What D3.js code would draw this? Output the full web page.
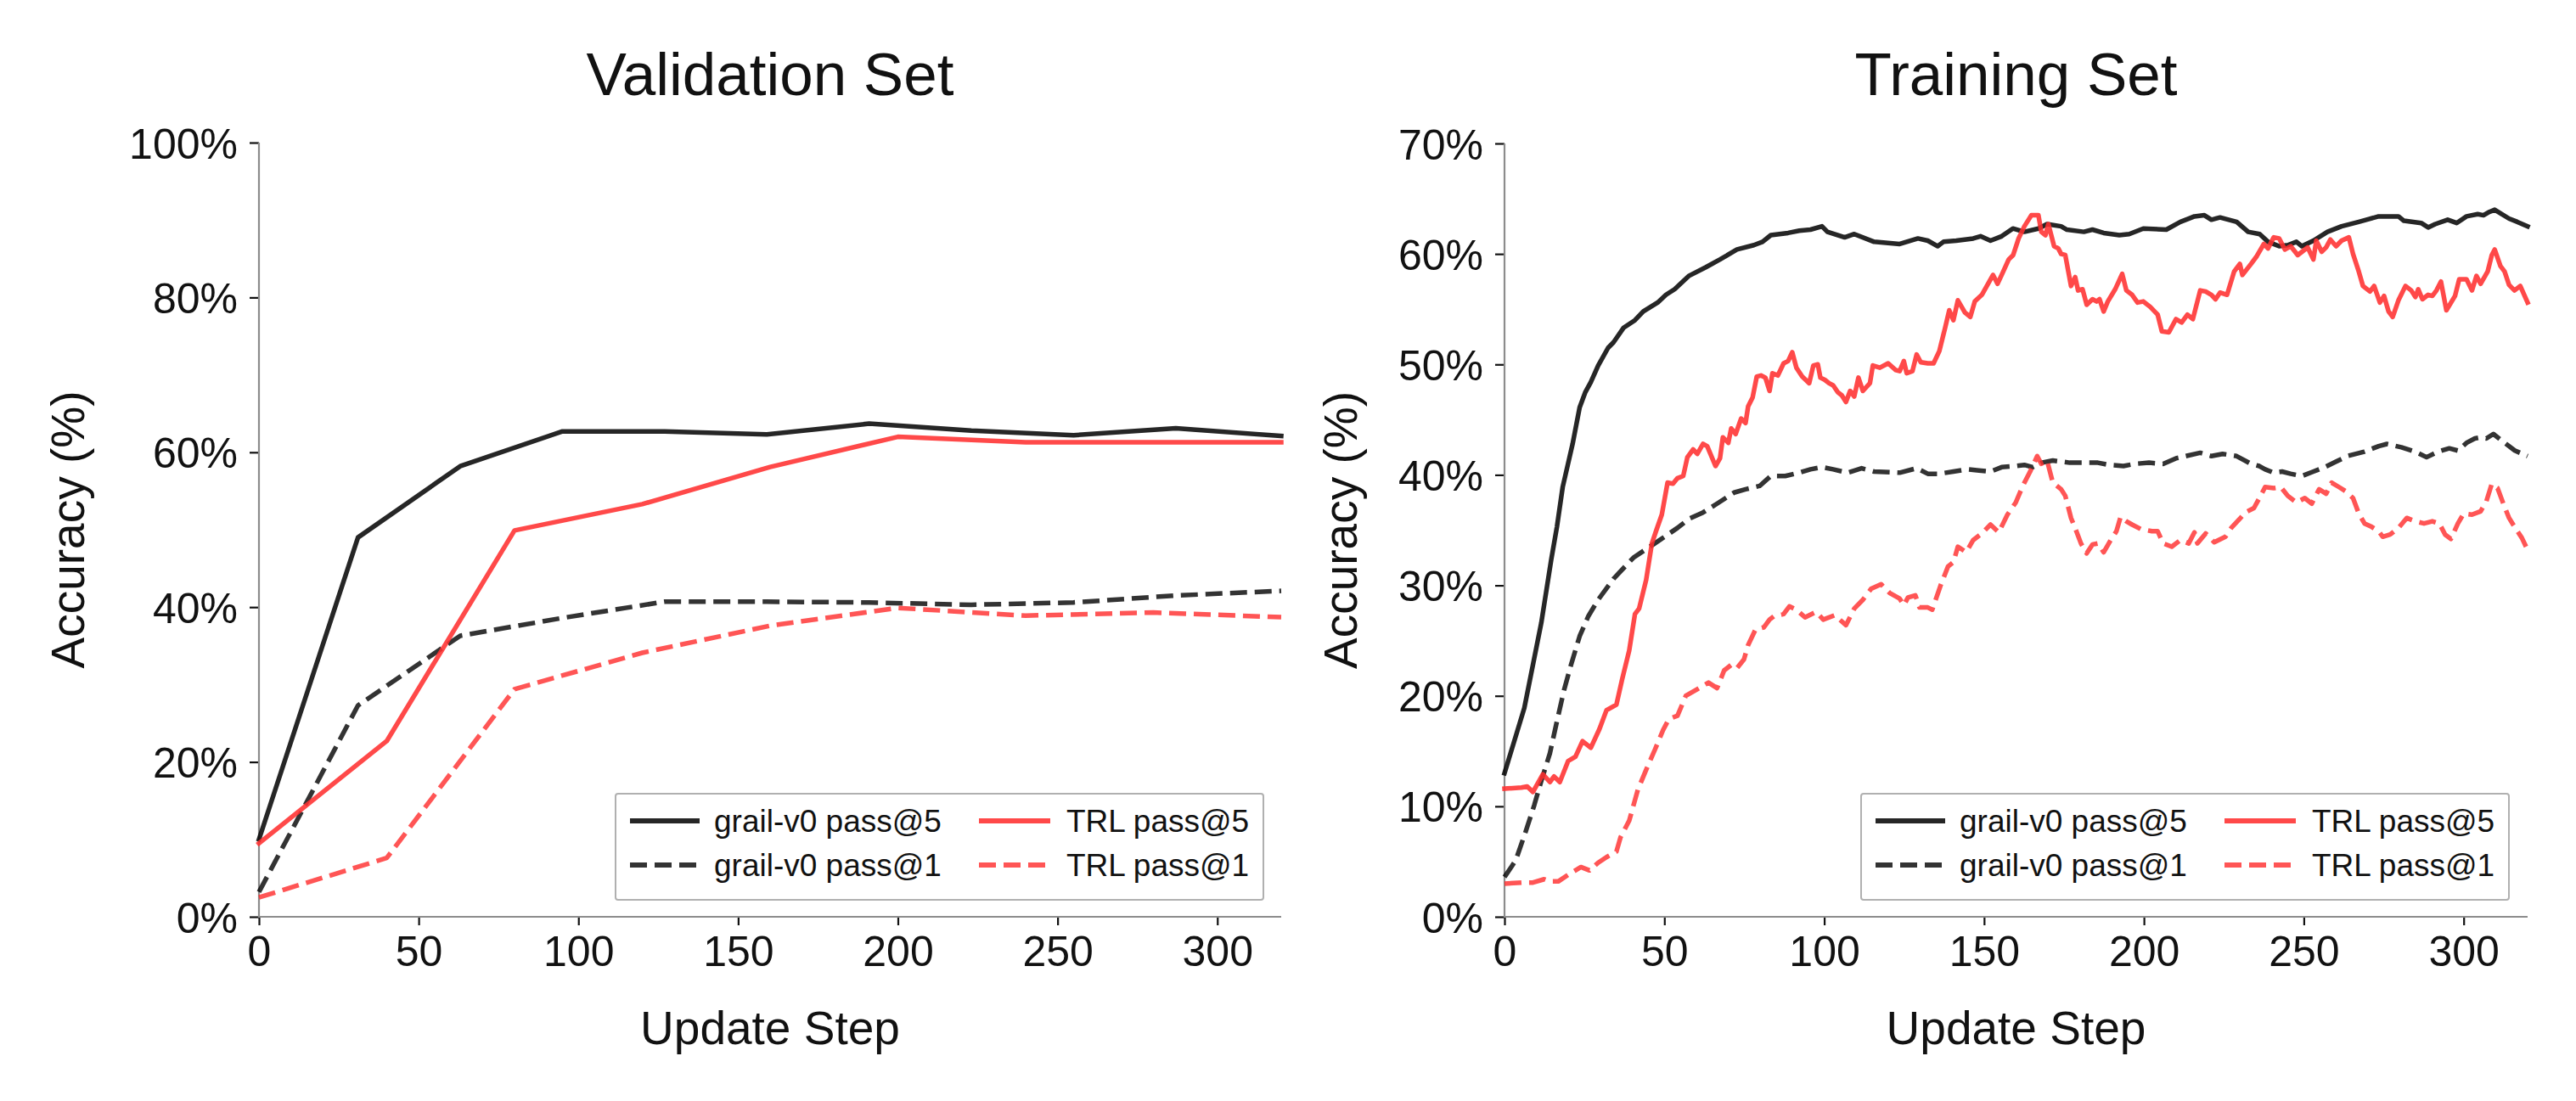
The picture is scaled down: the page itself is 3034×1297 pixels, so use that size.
<!DOCTYPE html>
<html>
<head>
<meta charset="utf-8">
<script src="https://cdn.jsdelivr.net/npm/d3@7/dist/d3.min.js"></script>
<style>
  html, body { margin: 0; padding: 0; background: #fff; }
  svg { display: block; }
  text { font-family: "Liberation Sans", Arial, Helvetica, sans-serif; fill: #111; }
</style>
</head>
<body>
<svg id="chart" width="3034" height="1297"></svg>
<script>
// ---------------- DATA ----------------
const xTicks = [0, 50, 100, 150, 200, 250, 300];
const valYTicks = [0, 20, 40, 60, 80, 100];
const trainYTicks = [0, 10, 20, 30, 40, 50, 60, 70];
const seriesNames = ["grail-v0 pass@5", "grail-v0 pass@1", "TRL pass@5", "TRL pass@1"];

// Validation set (evaluation points)
const valGrailSteps = [0, 31, 63, 95, 127, 159, 191, 223, 255, 287, 320];
const valGrail5 = [10.0, 49.0, 58.2, 62.7, 62.7, 62.3, 63.7, 62.8, 62.2, 63.1, 62.1];
const valGrail1 = [3.2, 27.3, 36.3, 38.6, 40.7, 40.7, 40.6, 40.3, 40.6, 41.5, 42.1];
const valTrlSteps = [0, 40, 80, 120, 160, 200, 240, 280, 320];
const valTrl5 = [9.5, 22.7, 49.9, 53.3, 58.1, 62.0, 61.3, 61.3, 61.3];
const valTrl1 = [2.5, 7.6, 29.4, 34.1, 37.6, 39.9, 38.9, 39.3, 38.7];

// Training set ([step, accuracy %])
const trainGrail5 = [[0,13.0],[6.2,18.9],[11.5,26.6],[14.6,32.3],[16.4,35.3],[18.2,38.9],[21.3,42.8],[23.5,46.1],[25.3,47.5],[27,48.4],[29.3,49.9],[32.4,51.5],[34.1,52],[37.2,53.3],[40.8,54],[43.4,54.8],[47.9,55.6],[50.5,56.3],[53.2,56.8],[57.6,58],[63,58.8],[67.4,59.5],[72.7,60.4],[78,60.8],[80.7,61.1],[83.3,61.7],[88.7,61.9],[92.2,62.1],[95.7,62.2],[99.3,62.5],[101,62],[106.4,61.5],[109.4,61.8],[115.6,61.1],[123.6,60.9],[129.3,61.4],[132.4,61.2],[135.5,60.7],[137.3,61.1],[141.3,61.2],[146.6,61.4],[148.9,61.6],[152,61.2],[155.5,61.6],[159,62.3],[162.6,62.0],[167,62.3],[169.7,62.7],[174.1,62.5],[175.9,62.2],[181.2,62.0],[183.9,62.2],[187.4,61.9],[192.3,61.7],[195.4,61.8],[199.8,62.3],[207,62.2],[211.4,62.9],[215.8,63.4],[218.9,63.5],[221.1,63.1],[223.8,63.3],[229,62.9],[232.6,62.0],[236.2,61.8],[238.8,61.1],[242.3,60.7],[245,60.8],[247.7,61.1],[249.4,60.7],[253,61.2],[257.4,62.0],[261.8,62.5],[267.2,62.9],[273.4,63.4],[279.6,63.4],[281.3,63.0],[286.7,62.8],[288.9,62.4],[291.1,62.7],[295,63.1],[297.8,62.8],[300.9,63.4],[304.4,63.6],[306.2,63.5],[308,63.8],[309.7,64.0],[314.2,63.2],[316.8,62.9],[320,62.5]];

const trainGrail1 = [[0,3.6],[3.5,5.1],[6.6,7.7],[9.3,10.1],[11.5,12.3],[14.2,14.8],[16.4,17.7],[18.6,20.5],[20.8,22.8],[23.5,25.4],[26.2,27.2],[29.3,28.7],[34.1,30.6],[40.3,32.5],[47,33.8],[54.1,35.2],[57.6,36.0],[62.1,36.6],[66.5,37.4],[71.8,38.4],[75.4,38.7],[79.8,39.0],[83.3,39.9],[87.8,39.9],[92.2,40.2],[95.7,40.5],[99.3,40.7],[102.8,40.5],[107.3,40.2],[111.7,40.6],[115.6,40.3],[123.6,40.2],[128.9,40.6],[132.4,40.1],[136,40.1],[140.4,40.3],[144.9,40.5],[148.4,40.4],[152,40.3],[155.5,40.7],[159.9,40.8],[162.6,40.9],[165.2,40.7],[167.9,41.1],[171.5,41.3],[176.8,41.1],[181.2,41.1],[185.6,41.1],[189.2,40.9],[193.6,40.8],[197.2,41.0],[201.6,41.1],[206,41.0],[210,41.5],[213.1,41.7],[217.6,42.0],[221.1,41.7],[224.6,41.9],[229,41.7],[233.5,41.0],[236.1,40.8],[237.9,40.5],[240.6,40.2],[243.2,40.3],[245.9,40.1],[249.4,39.9],[253,40.3],[256.5,40.7],[260.1,41.2],[263.6,41.7],[268.9,42.1],[273.4,42.6],[276,42.8],[280.5,42.5],[284.9,42.1],[288.4,41.6],[292,42.1],[295.5,42.4],[298.2,42.2],[300.9,42.9],[303.5,43.3],[305.3,43.4],[307.1,43.3],[309.3,43.7],[312.4,43.0],[316,42.2],[320,41.7]];

const trainTrl5 = [[0,11.6],[5.3,11.7],[7.1,11.8],[8.9,11.3],[12,12.9],[14.2,12.2],[15.5,12.7],[17.3,12.2],[19.9,14.1],[22.2,14.5],[24.4,15.9],[27,15.3],[29.7,17.0],[31.9,18.7],[35,19.2],[36.8,21.5],[39,24.1],[40.8,27.4],[42.1,27.9],[44.3,30.5],[46.1,33.8],[47.5,35.0],[49.2,36.4],[51,39.3],[52.7,39.2],[54.1,39.7],[55.9,39.9],[57.2,41.6],[59,42.3],[60.3,41.9],[62.1,42.8],[63.4,42.6],[66,40.8],[67.4,41.5],[68.3,43.4],[70,42.9],[70.9,44.2],[72.3,43.7],[74,45.1],[75.4,44.7],[76.2,46.2],[77.6,47.0],[78.9,48.9],[80.2,49.0],[81.6,48.8],[82.9,47.6],[83.8,49.2],[85.5,49.0],[87.3,50.1],[88.7,50.3],[90,51.1],[91.3,49.7],[93.1,48.9],[95.3,48.3],[96.6,49.9],[98,50.0],[98.8,48.8],[100.2,48.6],[101.5,48.3],[102.8,48.1],[104.2,47.5],[105.5,47.2],[106.8,46.6],[108.1,47.6],[109.4,47.1],[110.7,48.8],[112.1,47.6],[114.3,48.3],[115.2,49.9],[117.4,49.7],[120,50.1],[122.3,49.5],[123.6,49.4],[124.9,50.3],[125.8,49.2],[127.6,49.4],[128.9,50.9],[130.2,50.2],[132.4,50.1],[134.2,50.1],[136,51.2],[137.8,53.3],[139.1,54.9],[140.4,54.0],[141.8,55.8],[144,54.7],[145.7,54.3],[147.1,55.7],[149.3,56.3],[152.8,58.1],[154.2,57.3],[155.5,58.1],[157.7,59.5],[159.1,59.9],[160.8,61.4],[162.6,62.5],[164.8,63.5],[167,63.5],[167.9,62.0],[169.2,61.7],[170.1,62.7],[171.9,60.7],[173.2,60.5],[174.1,60.0],[175.4,59.9],[177.2,57.1],[178.5,57.9],[179.4,56.7],[180.8,56.8],[182.1,55.4],[183.9,55.9],[185.2,55.7],[186.1,55.9],[187.4,54.8],[188.7,55.7],[191,56.8],[193.2,58.2],[194.5,56.7],[196.3,56.3],[198,55.6],[199.8,55.7],[202,55.2],[204.3,54.5],[205.6,53.0],[207.8,52.9],[210,54.1],[211.8,53.8],[213.6,54.5],[215.3,54.1],[217.6,56.7],[219.3,56.6],[221.1,56.3],[222.4,55.9],[223.8,56.5],[226,56.3],[228.2,58.4],[230,59.1],[230.8,58.1],[233.5,59.1],[235.3,59.8],[237.5,60.9],[238.8,60.5],[240.6,61.5],[242.3,61.4],[244.1,60.4],[245.9,60.7],[248.1,59.9],[249.9,60.3],[251.2,60.6],[253,59.5],[253.9,61.2],[255.6,60.2],[257,60.6],[258.3,61.3],[260.1,60.7],[261.8,61.2],[264.1,61.5],[265.4,60.0],[267.2,58.4],[268.5,57.1],[270.7,56.6],[272,57.1],[273.8,55.6],[275.1,56.2],[276.5,54.8],[277.8,54.3],[279.6,55.8],[281.8,57.1],[283.6,56.7],[284.9,56.1],[285.8,56.8],[287.1,55.9],[288.9,56.3],[290.2,56.2],[291.5,56.7],[292.9,57.5],[294.6,54.9],[297.3,56.2],[298.6,57.7],[300.9,57.7],[302.6,56.7],[304,58.0],[305.3,57.3],[307.5,58.4],[308.8,59.9],[309.7,60.4],[311.5,58.9],[312.8,58.4],[314.2,57.2],[315.9,56.7],[317.7,57.1],[320,55.6]];

const trainTrl1 = [[0,3.0],[5.3,3.1],[8.9,3.1],[12.4,3.4],[14.2,3.2],[16.8,3.2],[20.4,3.9],[23.9,4.5],[26.6,4.2],[29.3,4.9],[31.9,5.4],[35,5.9],[36.3,7.2],[39,8.7],[41.7,11.5],[44.3,13.3],[47,15.1],[49.6,16.9],[51.4,17.9],[54.1,18.2],[56.7,20.0],[60.3,20.6],[63.8,21.2],[66.5,20.7],[68.7,22.3],[70.9,22.8],[72.7,22.5],[74.9,23.3],[76.2,24.6],[78.5,26.0],[81.1,26.2],[82.9,26.9],[84.2,27.2],[87.3,27.4],[89.1,28.1],[91.3,27.8],[94,27.1],[97.5,27.6],[99.7,26.9],[103.3,27.3],[106.8,26.4],[109.4,27.9],[112.1,28.7],[114.7,29.7],[117.8,30.1],[120.5,29.3],[123.6,28.8],[124.9,28.2],[126.2,28.9],[128.5,29.1],[129.8,28.0],[132.4,28.0],[133.8,27.8],[136.4,30.0],[138.7,31.7],[140.4,32.1],[141.8,33.5],[144.4,33.0],[146.6,34.1],[149.3,34.7],[152,35.5],[154.6,34.8],[157.3,36.4],[159.9,37.5],[162.1,39.0],[164.4,40.3],[166.6,41.7],[167.9,41.0],[169.7,41.3],[171.5,39.3],[174.1,38.7],[175.4,38.1],[177.2,36.1],[178.6,35.1],[180.3,33.8],[182.1,32.9],[183.9,33.7],[185.6,33.8],[187.4,33.0],[189.2,33.9],[191.4,34.9],[192.7,36.2],[194.5,35.8],[196.3,35.5],[199,35.1],[202.5,34.9],[204.3,34.9],[206,33.8],[208.7,33.5],[211.4,34.1],[214,33.8],[215.8,34.8],[216.7,33.8],[219.3,34.7],[222,33.9],[225.5,34.4],[227.3,35.2],[229.9,36.0],[231.7,36.6],[234.4,37.0],[236.1,37.9],[237.9,38.9],[240.6,38.8],[242.8,38.9],[245,38.1],[247.7,37.5],[250.3,37.9],[252.5,37.4],[254.8,38.7],[257,38.3],[258.7,39.3],[261,38.9],[263.2,38.5],[265.4,37.9],[267.2,36.5],[269,35.6],[271.2,35.3],[273.4,34.9],[274.7,34.4],[277,34.6],[279.6,35.2],[282.2,36.1],[284.9,35.8],[287.6,35.6],[290.2,35.8],[292.4,35.6],[294.2,34.6],[296,34.2],[298.2,35.6],[300,36.5],[302.6,36.4],[305.3,36.7],[307.1,37.6],[308.8,39.2],[310.6,38.8],[312.4,37.4],[314.2,36.1],[315.9,35.3],[318.2,34.3],[320,33.2]];

// ---------------- STYLE ----------------
const styles = [
  { color: "#000000", opacity: 0.85, dash: null },
  { color: "#000000", opacity: 0.80, dash: "20,9" },
  { color: "#ff3030", opacity: 0.88, dash: null },
  { color: "#ff3030", opacity: 0.82, dash: "20,9" }
];
const LW = 5.5;

const zip = (xs, ys) => xs.map((x, i) => [x, ys[i]]);

const panels = [
  {
    title: "Validation Set", x0: 305, x1: 1509, yTop: 168, yMax: 100, yTicks: valYTicks,
    ylabelX: 99, legendRight: 1488,
    data: [zip(valGrailSteps, valGrail5), zip(valGrailSteps, valGrail1), zip(valTrlSteps, valTrl5), zip(valTrlSteps, valTrl1)]
  },
  {
    title: "Training Set", x0: 1772, x1: 2977, yTop: 169, yMax: 70, yTicks: trainYTicks,
    ylabelX: 1598, legendRight: 2955,
    data: [trainGrail5, trainGrail1, trainTrl5, trainTrl1]
  }
];

const svg = d3.select("#chart");
svg.append("rect").attr("width", 3034).attr("height", 1297).attr("fill", "#fff");
const yBottom = 1080;

panels.forEach(p => {
  const x = d3.scaleLinear().domain([0, 320]).range([p.x0, p.x1]);
  const y = d3.scaleLinear().domain([0, p.yMax]).range([yBottom, p.yTop]);
  const g = svg.append("g");
  const cx = (p.x0 + p.x1) / 2;

  // title
  g.append("text").attr("x", cx).attr("y", 112).attr("text-anchor", "middle")
    .style("font-size", "71px").text(p.title);

  // axes
  const yAxis = d3.axisLeft(y).tickValues(p.yTicks).tickSize(11).tickPadding(14).tickFormat(d => d + "%");
  const ga = g.append("g").attr("transform", `translate(${p.x0},0)`).call(yAxis);
  const xAxis = d3.axisBottom(x).tickValues(xTicks).tickSize(10).tickPadding(12).tickFormat(d3.format("d"));
  const gx = g.append("g").attr("transform", `translate(0,${yBottom})`).call(xAxis);
  [ga, gx].forEach(a => {
    a.select(".domain").remove();
    a.selectAll(".tick line").attr("stroke", "#111").attr("stroke-width", 2.2);
    a.selectAll(".tick text").style("font-size", "50px")
      .style("font-family", '"Liberation Sans", Arial, Helvetica, sans-serif').attr("fill", "#111");
  });
  ga.selectAll(".tick text").attr("dy", "0.36em");

  // spines (left & bottom only)
  g.append("line").attr("x1", p.x0).attr("x2", p.x0).attr("y1", p.yTop).attr("y2", yBottom + 1)
    .attr("stroke", "#8c8c8c").attr("stroke-width", 2.2);
  g.append("line").attr("x1", p.x0 - 1).attr("x2", p.x1).attr("y1", yBottom).attr("y2", yBottom)
    .attr("stroke", "#8c8c8c").attr("stroke-width", 2.2);

  // axis labels
  g.append("text").attr("x", cx).attr("y", 1230).attr("text-anchor", "middle")
    .style("font-size", "55px").text("Update Step");
  g.append("text").attr("transform", `translate(${p.ylabelX},${(p.yTop + yBottom) / 2}) rotate(-90)`)
    .attr("text-anchor", "middle").style("font-size", "55px").text("Accuracy (%)");

  // lines
  const line = d3.line().x(d => x(d[0])).y(d => y(d[1]));
  p.data.forEach((s, i) => {
    const st = styles[i];
    g.append("path").datum(s).attr("d", line)
      .attr("fill", "none").attr("stroke", st.color).attr("stroke-opacity", st.opacity)
      .attr("stroke-width", LW).attr("stroke-linejoin", "round")
      .attr("stroke-linecap", st.dash ? "butt" : "square")
      .attr("stroke-dasharray", st.dash);
  });

  // legend
  const L = p.legendRight - 763;
  const lg = g.append("g");
  lg.append("rect").attr("x", L).attr("y", 935).attr("width", 763).attr("height", 125)
    .attr("rx", 3).attr("fill", "#fff").attr("fill-opacity", 0.85)
    .attr("stroke", "#b0b0b0").attr("stroke-width", 2);
  const cols = [{ h0: 17, h1: 99, t: 116 }, { h0: 428, h1: 512, t: 531 }];
  const rows = [967, 1019];
  seriesNames.forEach((name, i) => {
    const c = cols[Math.floor(i / 2)], r = rows[i % 2], st = styles[i];
    lg.append("line").attr("x1", L + c.h0).attr("x2", L + c.h1).attr("y1", r).attr("y2", r)
      .attr("stroke", st.color).attr("stroke-opacity", st.opacity).attr("stroke-width", LW + 0.5)
      .attr("stroke-dasharray", st.dash);
    lg.append("text").attr("x", L + c.t).attr("y", r + 13).style("font-size", "37px").text(name);
  });
});
</script>
</body>
</html>
